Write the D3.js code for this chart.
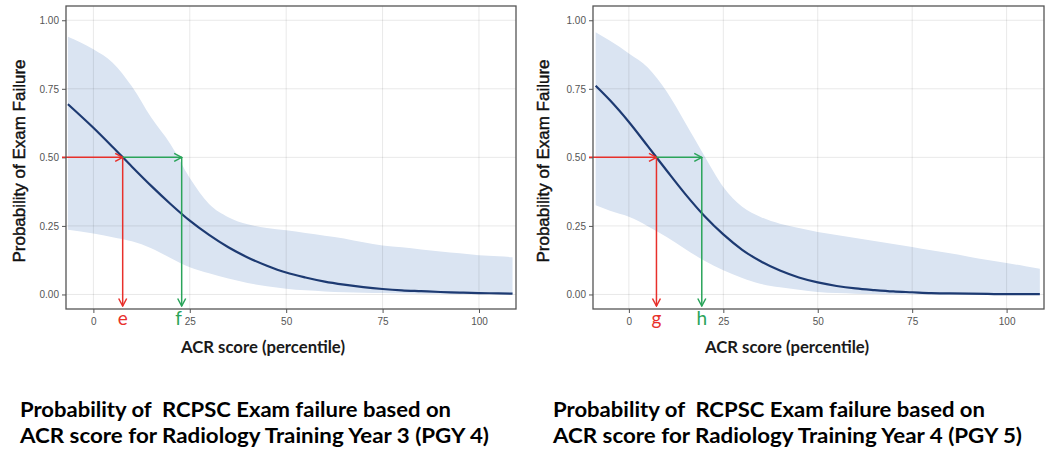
<!DOCTYPE html>
<html><head><meta charset="utf-8">
<script src="https://cdn.jsdelivr.net/npm/d3@7"></script>
<style>body{margin:0;background:#fff;} svg{display:block;}</style>
</head><body>
<svg id="chart" width="1050" height="458"></svg>
<script>
// ---- data ----
const xTicks = [0, 25, 50, 75, 100];
const yTicks = [0, 0.25, 0.5, 0.75, 1];

const scoresPGY4 = [-6.6, 0, 5, 10, 15, 20, 25, 30, 35, 40, 45, 50, 55, 60, 65, 70, 75, 80, 85, 90, 95, 100, 105, 108.7];
const fitPGY4   = [0.694, 0.608, 0.538, 0.466, 0.396, 0.330, 0.269, 0.217, 0.172, 0.135, 0.105, 0.080, 0.062, 0.047, 0.036, 0.027, 0.020, 0.015, 0.012, 0.009, 0.007, 0.005, 0.004, 0.003];
const lowerPGY4 = [0.236, 0.222, 0.209, 0.194, 0.169, 0.133, 0.099, 0.077, 0.058, 0.042, 0.030, 0.021, 0.015, 0.011, 0.008, 0.006, 0.005, 0.004, 0.003, 0.003, 0.002, 0.002, 0.002, 0.002];
const upperPGY4 = [0.940, 0.894, 0.845, 0.758, 0.645, 0.548, 0.425, 0.330, 0.282, 0.256, 0.242, 0.234, 0.224, 0.214, 0.204, 0.190, 0.179, 0.172, 0.164, 0.157, 0.150, 0.143, 0.139, 0.136];
const cutoffScoresPGY4 = [7.6, 22.9];
const cutoffLabelsPGY4 = ["e", "f"];
const captionPGY4 = ["Probability of  RCPSC Exam failure based on", "ACR score for Radiology Training Year 3 (PGY 4)"];

const scoresPGY5 = [-8.8, -5, 0, 5, 10, 15, 20, 25, 30, 35, 40, 45, 50, 55, 60, 65, 70, 75, 80, 85, 90, 95, 100, 105, 108.8];
const fitPGY5   = [0.761, 0.708, 0.629, 0.541, 0.452, 0.365, 0.286, 0.219, 0.163, 0.120, 0.087, 0.062, 0.044, 0.031, 0.022, 0.016, 0.011, 0.008, 0.005, 0.004, 0.003, 0.002, 0.001, 0.001, 0.001];
const lowerPGY5 = [0.325, 0.305, 0.283, 0.249, 0.210, 0.165, 0.123, 0.088, 0.060, 0.038, 0.026, 0.017, 0.009, 0.005, 0.003, 0.002, 0.001, 0.001, 0.001, 0, 0, 0, 0, 0, 0];
const upperPGY5 = [0.956, 0.925, 0.879, 0.828, 0.740, 0.624, 0.505, 0.392, 0.320, 0.282, 0.258, 0.242, 0.228, 0.217, 0.206, 0.195, 0.184, 0.173, 0.161, 0.150, 0.138, 0.126, 0.115, 0.103, 0.094];
const cutoffScoresPGY5 = [7.3, 19.3];
const cutoffLabelsPGY5 = ["g", "h"];
const captionPGY5 = ["Probability of  RCPSC Exam failure based on", "ACR score for Radiology Training Year 4 (PGY 5)"];

const cutoffProb = 0.5;
const xTitle = "ACR score (percentile)";
const yTitle = "Probability of Exam Failure";

// ---- drawing ----
const svg = d3.select("#chart");
const RED = "#e8302b", GREEN = "#2aa45a";

const defs = svg.append("defs");
[["arrRed", RED], ["arrGreen", GREEN]].forEach(([id, c]) => {
  defs.append("marker").attr("id", id).attr("markerUnits", "userSpaceOnUse")
    .attr("viewBox", "-9 -5 10 10").attr("refX", 0).attr("refY", 0)
    .attr("markerWidth", 10).attr("markerHeight", 10).attr("orient", "auto")
    .append("path").attr("d", "M-7.5,-4 L0,0 L-7.5,4").attr("fill", "none")
    .attr("stroke", c).attr("stroke-width", 1.5);
});

function panel(cfg) {
  const x = d3.scaleLinear().domain(cfg.xDomain).range([cfg.fx0, cfg.fx1]);
  const y = d3.scaleLinear().domain([-0.053, 1.052]).range([309, 6]);
  const g = svg.append("g");
  const rows = cfg.scores.map((s, i) => ({s, fit: cfg.fit[i], lo: cfg.lower[i], hi: cfg.upper[i]}));

  // band
  g.append("path").datum(rows)
    .attr("d", d3.area().x(d => x(d.s)).y0(d => y(d.lo)).y1(d => y(d.hi)).curve(d3.curveMonotoneX))
    .attr("fill", "#dae4f2");
  // grid
  g.append("g").selectAll("line").data(xTicks).join("line")
    .attr("x1", d => x(d)).attr("x2", d => x(d)).attr("y1", 6).attr("y2", 309)
    .attr("stroke", "rgba(0,0,0,0.09)").attr("stroke-width", 1);
  g.append("g").selectAll("line").data(yTicks).join("line")
    .attr("y1", d => y(d)).attr("y2", d => y(d)).attr("x1", cfg.fx0).attr("x2", cfg.fx1)
    .attr("stroke", "rgba(0,0,0,0.09)").attr("stroke-width", 1);
  // fitted line
  g.append("path").datum(rows)
    .attr("d", d3.line().x(d => x(d.s)).y(d => y(d.fit)).curve(d3.curveMonotoneX))
    .attr("fill", "none").attr("stroke", "#1d3a72").attr("stroke-width", 2.2);

  // axes
  const ax = g.append("g").attr("transform", `translate(0,309)`)
    .call(d3.axisBottom(x).tickValues(xTicks).tickSize(4).tickPadding(5).tickFormat(d3.format("d")));
  const ay = g.append("g").attr("transform", `translate(${cfg.fx0},0)`)
    .call(d3.axisLeft(y).tickValues(yTicks).tickSize(4).tickPadding(3).tickFormat(d3.format(".2f")));
  [ax, ay].forEach(a => {
    a.select(".domain").remove();
    a.selectAll(".tick line").attr("stroke", "#555");
    a.selectAll(".tick text").attr("fill", "#555").style("font-family", "Liberation Sans, Arial, sans-serif").style("font-size", "10px");
  });

  // cutoff arrows
  const [c1, c2] = cfg.cutoffs;
  const yc = y(cutoffProb);
  const arrows = [
    {x1: cfg.fx0 - 4, y1: yc, x2: x(c1), y2: yc, c: RED, m: "arrRed"},
    {x1: x(c1), y1: yc, x2: x(c1), y2: 306, c: RED, m: "arrRed"},
    {x1: x(c1), y1: yc, x2: x(c2), y2: yc, c: GREEN, m: "arrGreen"},
    {x1: x(c2), y1: yc, x2: x(c2), y2: 306, c: GREEN, m: "arrGreen"}
  ];
  g.append("g").selectAll("line").data(arrows).join("line")
    .attr("x1", d => d.x1).attr("y1", d => d.y1).attr("x2", d => d.x2).attr("y2", d => d.y2)
    .attr("stroke", d => d.c).attr("stroke-width", 1.5).attr("marker-end", d => `url(#${d.m})`);

  // frame
  g.append("rect").attr("x", cfg.fx0).attr("y", 6).attr("width", cfg.fx1 - cfg.fx0).attr("height", 303)
    .attr("fill", "none").attr("stroke", "#555").attr("stroke-width", 1.3);

  // cutoff letters
  g.append("g").selectAll("text").data(cfg.labels).join("text")
    .attr("x", (d, i) => x(cfg.cutoffs[i]) + (i === 1 ? cfg.l2dx : 0)).attr("y", 325)
    .attr("text-anchor", "middle").attr("fill", (d, i) => i === 0 ? RED : GREEN)
    .style("font-family", "Lato, Open Sans, sans-serif").style("font-size", "19px").text(d => d);

  // titles
  g.append("text").attr("x", cfg.xtCx).attr("y", 353).attr("text-anchor", "middle")
    .attr("textLength", 164).attr("lengthAdjust", "spacingAndGlyphs")
    .style("font-family", "Lato, Open Sans, sans-serif").style("font-size", "17px").style("font-weight", "bold")
    .attr("fill", "#1a1a1a").text(xTitle);
  g.append("text").attr("transform", `translate(${cfg.ytX},161) rotate(-90)`).attr("text-anchor", "middle")
    .style("font-family", "Liberation Sans, Arial, sans-serif").style("font-size", "17px")
    .attr("fill", "#111").attr("stroke", "#111").attr("stroke-width", 0.45).text(yTitle);

  // caption
  g.append("g").selectAll("text").data(cfg.caption).join("text")
    .attr("x", cfg.capX).attr("y", (d, i) => 417 + i * 26)
    .attr("textLength", (d, i) => cfg.capLen[i]).attr("lengthAdjust", "spacingAndGlyphs")
    .style("white-space", "pre").style("font-family", "Lato, Open Sans, sans-serif")
    .style("font-size", "20px").style("font-weight", "bold").attr("fill", "#000").text(d => d);
}

panel({fx0: 66, fx1: 516, xDomain: [-7.1, 109.6], scores: scoresPGY4, fit: fitPGY4, lower: lowerPGY4, upper: upperPGY4,
  cutoffs: cutoffScoresPGY4, labels: cutoffLabelsPGY4, l2dx: -3, xtCx: 263, ytX: 25, caption: captionPGY4, capX: 20, capLen: [431, 469]});
panel({fx0: 593, fx1: 1044, xDomain: [-9.5, 109.9], scores: scoresPGY5, fit: fitPGY5, lower: lowerPGY5, upper: upperPGY5,
  cutoffs: cutoffScoresPGY5, labels: cutoffLabelsPGY5, l2dx: 0, xtCx: 787, ytX: 549, caption: captionPGY5, capX: 553, capLen: [432, 469]});
</script>
</body></html>
